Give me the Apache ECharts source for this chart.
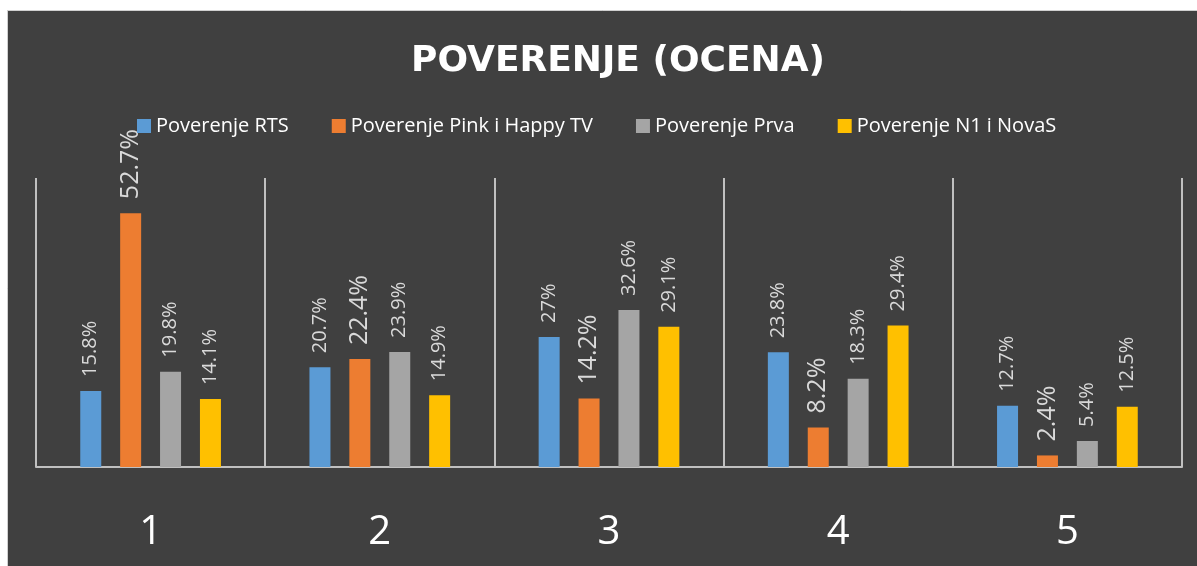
<!DOCTYPE html>
<html><head><meta charset="utf-8">
<script src="https://cdn.jsdelivr.net/npm/echarts@6/dist/echarts.min.js"></script>
<style>html,body{margin:0;padding:0;background:#fff;}#c{width:1197px;height:566px;}</style>
</head><body><div id="c"></div>
<script>
const categories = ['1', '2', '3', '4', '5'];
const seriesNames = ['Poverenje RTS', 'Poverenje Pink i Happy TV', 'Poverenje Prva', 'Poverenje N1 i NovaS'];
const rts = [15.8, 20.7, 27, 23.8, 12.7];
const pink = [52.7, 22.4, 14.2, 8.2, 2.4];
const prva = [19.8, 23.9, 32.6, 18.3, 5.4];
const n1 = [14.1, 14.9, 29.1, 29.4, 12.5];
const colors = ['#5B9BD5', '#ED7D31', '#A5A5A5', '#FFC000'];
const labelSizes = [20, 25, 20, 20];
const dataSets = [rts, pink, prva, n1];

const chart = echarts.init(document.getElementById('c'));
const FONT = '"Open Sans", sans-serif';
chart.setOption({
  backgroundColor: '#ffffff',
  animation: false,
  graphic: [{
    type: 'rect', z: -10, silent: true,
    shape: { x: 7.5, y: 10.5, width: 1200, height: 600 },
    style: { fill: '#404040', stroke: '#d0d0d0', lineWidth: 1 }
  }],
  title: {
    text: 'POVERENJE (OCENA)',
    left: 613, top: 39, textAlign: 'center',
    textStyle: { color: '#ffffff', fontSize: 36, fontWeight: 'bold', fontFamily: '"DejaVu Sans", sans-serif' }
  },
  legend: {
    top: 111, left: 132,
    itemWidth: 14, itemHeight: 14, itemGap: 43,
    icon: 'rect',
    textStyle: { color: '#ffffff', fontSize: 20, fontFamily: FONT },
    data: seriesNames
  },
  grid: { left: 36, right: 15, top: 178, bottom: 99 },
  xAxis: {
    type: 'category', data: categories,
    axisLine: { lineStyle: { color: '#c0c0c0', width: 2 } },
    axisTick: { show: false },
    splitLine: { show: true, lineStyle: { color: '#c0c0c0', width: 2 } },
    axisLabel: { color: '#ffffff', fontSize: 40, fontFamily: FONT, margin: 46 }
  },
  yAxis: { type: 'value', min: 0, max: 60, show: false, splitLine: { show: false } },
  series: dataSets.map((d, i) => ({
    name: seriesNames[i], type: 'bar', data: d,
    barWidth: 21, barGap: '90%',
    itemStyle: { color: colors[i] },
    label: {
      show: true, position: 'top', rotate: 90, align: 'left', verticalAlign: 'middle',
      distance: 14, color: '#d9d9d9', fontSize: labelSizes[i], fontFamily: FONT,
      formatter: p => p.value + '%'
    }
  }))
});
</script></body></html>
